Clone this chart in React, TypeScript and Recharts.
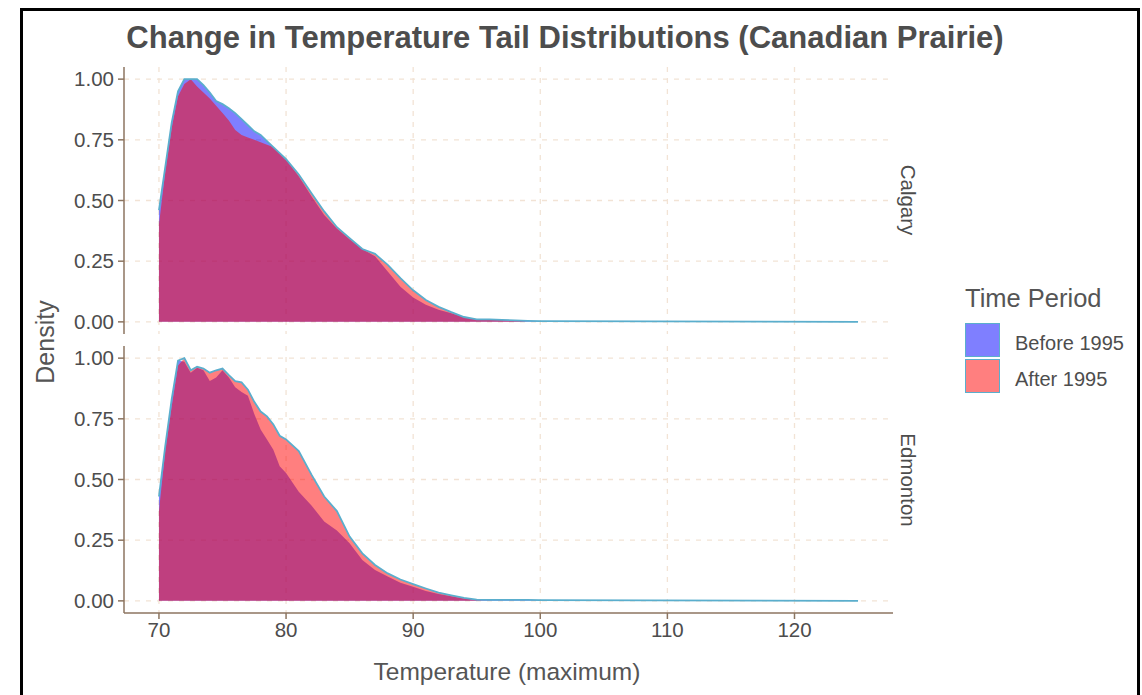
import React from "react"
import { ComposedChart, Area, Line, XAxis, YAxis, CartesianGrid } from "recharts"

// temperature grid (°F) and scaled densities
const temps = [
  70, 70.5, 71, 71.5, 72, 72.5, 73, 73.5, 74, 74.5, 75, 75.5, 76, 76.5, 77, 77.5, 78, 78.5, 79, 79.5, 80,
  81, 82, 83, 84, 85, 86, 87, 88, 89, 90, 91, 92, 93, 94, 95, 96, 97, 98, 99, 100, 125,
]

const calgaryBefore = [
  0.46, 0.64, 0.82, 0.95, 1.0, 1.0, 1.0, 0.975, 0.945, 0.91, 0.897, 0.88, 0.86, 0.835, 0.81, 0.785, 0.77, 0.745, 0.72, 0.695, 0.67,
  0.6, 0.517, 0.44, 0.385, 0.34, 0.3, 0.27, 0.207, 0.145, 0.1, 0.07, 0.05, 0.035, 0.02, 0.01, 0.01, 0.008, 0.005, 0.004, 0.003, 0,
]
const calgaryAfter = [
  0.4, 0.62, 0.8, 0.93, 0.98, 1.0, 0.97, 0.945, 0.92, 0.89, 0.86, 0.83, 0.79, 0.77, 0.76, 0.75, 0.74, 0.73, 0.72, 0.695, 0.67,
  0.607, 0.53, 0.455, 0.39, 0.345, 0.3, 0.28, 0.235, 0.18, 0.13, 0.09, 0.062, 0.04, 0.02, 0.01, 0.008, 0.008, 0.006, 0, 0, 0,
]
const edmontonBefore = [
  0.43, 0.64, 0.83, 0.99, 0.985, 0.94, 0.96, 0.95, 0.906, 0.92, 0.95, 0.92, 0.88, 0.86, 0.845, 0.77, 0.706, 0.665, 0.623, 0.555, 0.527,
  0.45, 0.393, 0.327, 0.29, 0.237, 0.168, 0.127, 0.1, 0.075, 0.058, 0.041, 0.028, 0.019, 0.01, 0.005, 0.004, 0.004, 0.004, 0.004, 0.003, 0,
]
const edmontonAfter = [
  0.37, 0.62, 0.8, 0.97, 1.0, 0.95, 0.965, 0.957, 0.94, 0.95, 0.957, 0.93, 0.905, 0.9, 0.87, 0.82, 0.78, 0.76, 0.727, 0.68, 0.665,
  0.617, 0.52, 0.43, 0.37, 0.265, 0.196, 0.148, 0.113, 0.088, 0.069, 0.051, 0.034, 0.023, 0.012, 0.003, 0, 0, 0, 0, 0, 0,
]

const yTicks = [0, 0.25, 0.5, 0.75, 1]
const xTicks = [70, 80, 90, 100, 110, 120]
const xDomain = [67.25, 127.75]
const yDomain = [-0.05, 1.05]

const FONT = "'Liberation Sans', Arial, sans-serif"
const AXIS = "#8c7560"
const GRID = "#f2e3d5"
const OUTLINE = "#5aaecd"
const TEXT = "#4d4d4d"

const rows = (before: number[], after: number[]) =>
  temps.map((t, i) => ({ temp: t, before: before[i], after: after[i] }))

// grid lines only at the tick values (no lines on the panel edges)
const hGrid = ({ offset }: any) =>
  yTicks.map((t) => offset.top + ((yDomain[1] - t) / (yDomain[1] - yDomain[0])) * offset.height)
const vGrid = ({ offset }: any) =>
  xTicks.map((t) => offset.left + ((t - xDomain[0]) / (xDomain[1] - xDomain[0])) * offset.width)

function Panel({ data, top, height, showX }: { data: any[]; top: number; height: number; showX: boolean }) {
  return (
    <div style={{ position: "absolute", left: 0, top }}>
      <ComposedChart width={1142} height={height} data={data} margin={{ top: 6, right: 249, bottom: showX ? 0 : 6, left: 64 }}>
        <CartesianGrid
          stroke={GRID}
          strokeWidth={1.3}
          strokeDasharray="5 6"
          horizontalCoordinatesGenerator={hGrid}
          verticalCoordinatesGenerator={vGrid}
        />
        <XAxis
          dataKey="temp"
          type="number"
          domain={xDomain}
          ticks={xTicks}
          hide={!showX}
          height={40}
          stroke={AXIS}
          strokeWidth={1.5}
          tickSize={6}
          tickMargin={3}
          tick={{ fontSize: 20.5, fill: TEXT, fontFamily: FONT }}
        />
        <YAxis
          type="number"
          domain={yDomain}
          ticks={yTicks}
          width={60}
          stroke={AXIS}
          strokeWidth={1.5}
          tickSize={6}
          tickMargin={4}
          tickFormatter={(v) => v.toFixed(2)}
          tick={{ fontSize: 20.5, fill: TEXT, fontFamily: FONT }}
        />
        <Area dataKey="before" type="linear" baseValue={0} fill="#0000ff" fillOpacity={0.5} stroke="none" isAnimationActive={false} />
        <Area dataKey="after" type="linear" baseValue={0} fill="#ff0000" fillOpacity={0.5} stroke="none" isAnimationActive={false} />
        <Line
          dataKey={(d: any) => Math.max(d.before, d.after)}
          type="linear"
          stroke={OUTLINE}
          strokeWidth={1.8}
          dot={false}
          activeDot={false}
          isAnimationActive={false}
        />
      </ComposedChart>
    </div>
  )
}

const textStyle = (size: number, color = TEXT): React.CSSProperties => ({
  position: "absolute",
  whiteSpace: "nowrap",
  fontSize: size,
  fontFamily: FONT,
  color,
  lineHeight: 1,
})

export default function App() {
  return (
    <div style={{ position: "fixed", left: 0, top: 0, width: 1142, height: 695, background: "#fff", overflow: "hidden" }}>
      <div style={{ position: "absolute", left: 20, top: 8, width: 1114, height: 700, border: "3px solid #000", borderBottom: "none" }} />

      <Panel data={rows(calgaryBefore, calgaryAfter)} top={61} height={279} showX={false} />
      <Panel data={rows(edmontonBefore, edmontonAfter)} top={340} height={313} showX={true} />

      <div style={{ ...textStyle(31), left: 565, top: 37, transform: "translate(-50%, -50%)", fontWeight: "bold" }}>
        Change in Temperature Tail Distributions (Canadian Prairie)
      </div>

      <div style={{ ...textStyle(25, "#555"), left: 45, top: 342, transform: "translate(-50%, -50%) rotate(-90deg)" }}>Density</div>
      <div style={{ ...textStyle(24.5, "#555"), left: 507, top: 672, transform: "translate(-50%, -50%)" }}>Temperature (maximum)</div>

      <div style={{ ...textStyle(20.5), left: 908, top: 200, transform: "translate(-50%, -50%) rotate(90deg)" }}>Calgary</div>
      <div style={{ ...textStyle(20.5), left: 908, top: 480, transform: "translate(-50%, -50%) rotate(90deg)" }}>Edmonton</div>

      <div style={{ ...textStyle(25.5, "#555"), left: 965, top: 299, transform: "translateY(-50%)" }}>Time Period</div>
      <div style={{ position: "absolute", left: 965, top: 323, width: 33, height: 32, background: "#7f7fff", border: `1.5px solid ${OUTLINE}` }} />
      <div style={{ position: "absolute", left: 965, top: 359, width: 33, height: 32, background: "#ff7f7f", border: `1.5px solid ${OUTLINE}` }} />
      <div style={{ ...textStyle(20), left: 1015, top: 343, transform: "translateY(-50%)" }}>Before 1995</div>
      <div style={{ ...textStyle(20), left: 1015, top: 379, transform: "translateY(-50%)" }}>After 1995</div>
    </div>
  )
}
